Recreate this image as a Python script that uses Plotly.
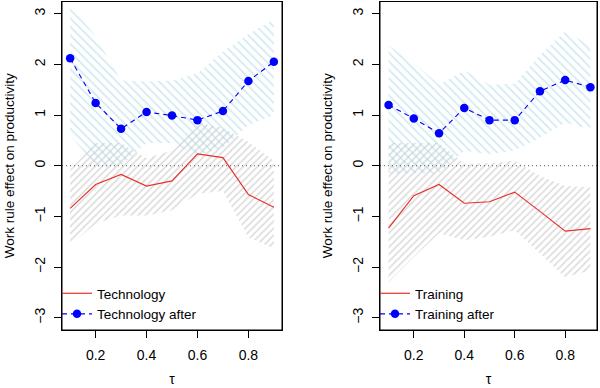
import plotly.graph_objects as go

tau = [0.1, 0.2, 0.3, 0.4, 0.5, 0.6, 0.7, 0.8, 0.9]

# Left panel: Technology
tech = [-0.84, -0.37, -0.17, -0.40, -0.30, 0.235, 0.16, -0.57, -0.82]
tech_lo = [-1.57, -1.14, -0.98, -0.98, -0.88, -0.55, -0.50, -1.41, -1.63]
tech_hi = [-0.08, 0.45, 0.45, 0.15, 0.30, 0.85, 0.75, 0.47, 0.10]
tech_after = [2.12, 1.24, 0.73, 1.06, 0.99, 0.90, 1.08, 1.67, 2.05]
tech_after_lo = [0.60, 0.0, 0.0, 0.45, 0.45, 0.20, 0.35, 0.80, 1.00]
tech_after_hi = [3.20, 2.55, 1.68, 1.66, 1.68, 1.82, 2.25, 2.60, 2.88]

# Right panel: Training
train = [-1.23, -0.59, -0.37, -0.74, -0.71, -0.52, -0.90, -1.29, -1.24]
train_lo = [-2.30, -1.80, -1.33, -1.47, -1.40, -1.27, -1.73, -2.20, -2.06]
train_hi = [0.45, 0.45, 0.45, 0.04, 0.05, 0.10, -0.20, -0.40, -0.43]
train_after = [1.20, 0.93, 0.64, 1.14, 0.90, 0.90, 1.47, 1.69, 1.55]
train_after_lo = [-0.15, -0.15, -0.16, 0.30, 0.22, 0.30, 0.55, 0.85, 0.72]
train_after_hi = [2.37, 2.03, 1.60, 1.88, 1.60, 1.62, 2.19, 2.65, 2.37]

panels = [
    ("Technology", tech, tech_lo, tech_hi, tech_after, tech_after_lo, tech_after_hi, "x", "y", "legend"),
    ("Training", train, train_lo, train_hi, train_after, train_after_lo, train_after_hi, "x2", "y2", "legend2"),
]

x_ticks = [0.2, 0.4, 0.6, 0.8]
y_ticks = [-3, -2, -1, 0, 1, 2, 3]

FONT = "Liberation Sans, Arial, sans-serif"
fig = go.Figure()

for name, mid, lo, hi, aft, alo, ahi, xa, ya, lg in panels:
    poly_x = tau + tau[::-1]
    # gray band
    fig.add_trace(go.Scatter(
        x=poly_x, y=hi + lo[::-1], xaxis=xa, yaxis=ya, mode="lines", fill="toself",
        line=dict(width=0, color="rgba(0,0,0,0)"), fillcolor="rgba(0,0,0,0)",
        fillpattern=dict(shape="/", fgcolor="#b5b5b5", bgcolor="rgba(0,0,0,0)", size=5, solidity=0.3),
        showlegend=False, hoverinfo="skip"))
    # blue band
    fig.add_trace(go.Scatter(
        x=poly_x, y=ahi + alo[::-1], xaxis=xa, yaxis=ya, mode="lines", fill="toself",
        line=dict(width=0, color="rgba(0,0,0,0)"), fillcolor="rgba(0,0,0,0)",
        fillpattern=dict(shape="\\", fgcolor="#a3d3e3", bgcolor="rgba(0,0,0,0)", size=6, solidity=0.27),
        showlegend=False, hoverinfo="skip"))
    fig.add_trace(go.Scatter(
        x=tau, y=mid, xaxis=xa, yaxis=ya, mode="lines", name=name,
        line=dict(color="#e8312b", width=1.2), legend=lg))
    fig.add_trace(go.Scatter(
        x=tau, y=aft, xaxis=xa, yaxis=ya, mode="lines+markers", name=name + " after",
        line=dict(color="#0000ff", width=1.1, dash="5px,4px"),
        marker=dict(color="#0000ff", size=8.5), legend=lg))
    fig.add_shape(type="line", xref=xa + " domain", yref=ya, x0=0, x1=1, y0=0, y1=0,
                  line=dict(color="#555555", width=1, dash="1px,3px"))
    # plot frame
    fig.add_shape(type="rect", xref=xa + " domain", yref=ya + " domain", x0=0, x1=1, y0=0, y1=1,
                  line=dict(color="black", width=1), fillcolor="rgba(0,0,0,0)", layer="above")

H = 388
W = 600
bottom = (H - 330) / H
top = 1 - 1.5 / H
axis_common = dict(showline=True, mirror=True, linecolor="black", linewidth=1,
                   ticks="outside", ticklen=7, tickcolor="black", showgrid=False,
                   zeroline=False, tickfont=dict(family=FONT, size=14, color="black"))
xtitle = dict(text="τ", standoff=12, font=dict(size=14))
ytitle = dict(text="Work rule effect on productivity", standoff=14, font=dict(size=13.5))

fig.update_layout(
    width=W, height=H, margin=dict(l=0, r=0, t=0, b=0),
    paper_bgcolor="white", plot_bgcolor="white",
    font=dict(family=FONT, size=13.5, color="black"),
    xaxis=dict(domain=[62 / W, 282 / W], range=[0.068, 0.932], tickvals=x_ticks,
               ticktext=[str(v) for v in x_ticks], anchor="y", ticklabelstandoff=5,
               title=xtitle, **axis_common),
    yaxis=dict(domain=[bottom, top], range=[-3.24, 3.24], tickvals=y_ticks, tickangle=-90,
               anchor="x", ticklabelstandoff=3, title=ytitle, **axis_common),
    xaxis2=dict(domain=[380 / W, 597 / W], range=[0.066, 0.926], tickvals=x_ticks,
                ticktext=[str(v) for v in x_ticks], anchor="y2", ticklabelstandoff=5,
                title=xtitle, **axis_common),
    yaxis2=dict(domain=[bottom, top], range=[-3.24, 3.24], tickvals=y_ticks, tickangle=-90,
                anchor="x2", ticklabelstandoff=3, title=ytitle, **axis_common),
    legend=dict(x=57 / W, y=bottom, xanchor="left", yanchor="bottom",
                bgcolor="rgba(0,0,0,0)", font=dict(size=13.5), tracegroupgap=0,
                itemwidth=30),
    legend2=dict(x=375 / W, y=bottom, xanchor="left", yanchor="bottom",
                 bgcolor="rgba(0,0,0,0)", font=dict(size=13.5), tracegroupgap=0,
                 itemwidth=30),
)

fig.write_html("out.html", config={"displayModeBar": False},
               post_script="document.body.style.margin='0';document.body.style.padding='0';")
